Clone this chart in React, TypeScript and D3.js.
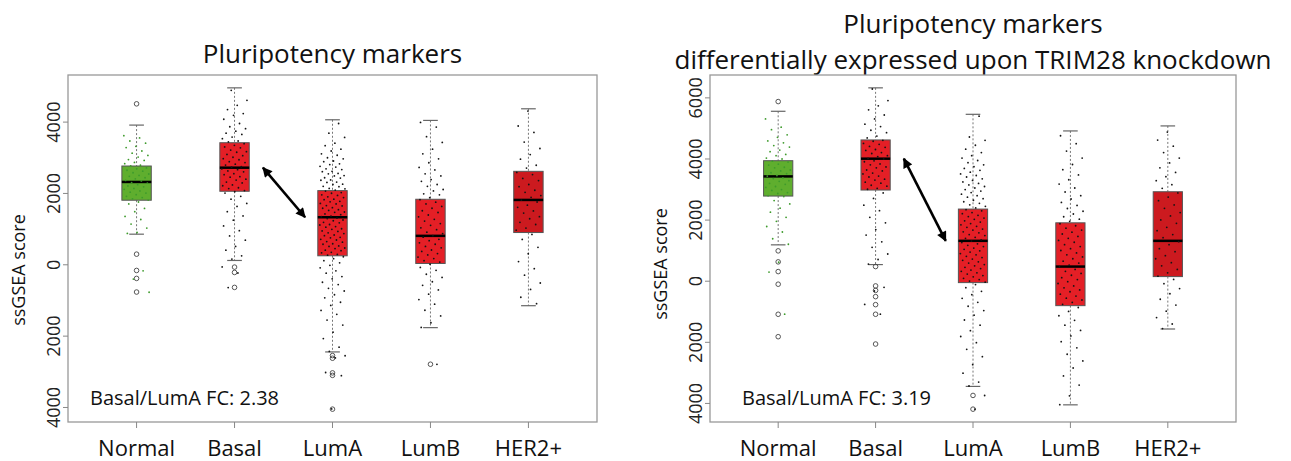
import React from 'react';
import * as d3 from 'd3';

// subtype order on the x axis
const groups = ['Normal', 'Basal', 'LumA', 'LumB', 'HER2+'];
const boxFill = ['#5fae2e', '#e41f26', '#e41f26', '#e41f26', '#cc1a1f'];
const dotFill = ['#3e9b2c', '#151515', '#151515', '#151515', '#151515'];

// box stats per group: [lower whisker, Q1, median, Q3, upper whisker]
const leftStats = [
  [858, 1810, 2322, 2769, 3916],
  [121, 2061, 2722, 3422, 4960],
  [-2443, 252, 1333, 2079, 4065],
  [-1762, 37, 811, 1837, 4047],
  [-1147, 904, 1818, 2620, 4373],
];
const leftOutliers = [
  [4512, 298, -159, -382, -764],
  [-65, -215, -634],
  [-2545, -2620, -3030, -3100, -4047],
  [-2788],
  [],
];

const rightStats = [
  [1190, 2787, 3430, 3944, 5561],
  [544, 2984, 4010, 4623, 6328],
  [-3443, -46, 1321, 2361, 5462],
  [-4046, -800, 479, 1911, 4918],
  [-1564, 151, 1321, 2928, 5082],
];
const rightOutliers = [
  [5879, 993, 633, 315, -98, -1082, -1816],
  [479, -154, -300, -505, -767, -1082, -2056],
  [-3738, -4187],
  [],
  [],
];

// jittered sample scores (approximate)
const lNormalPts = [3620, 3555, 3470, 3410, 3320, 3285, 3190, 3130, 3065, 3020, 2950, 2925, 2870, 2835, 2790, 2770, 2715, 2690, 2650, 2625, 2580, 2545, 2505, 2480, 2440, 2410, 2365, 2350, 2305, 2290, 2245, 2210, 2185, 2140, 2115, 2070, 2035, 2010, 1965, 1920, 1885, 1850, 1815, 1760, 1705, 1580, 1490, 1355, 1270, 1140, 1030, 905, 880, -170, -400, -770];
const lBasalPts = [4890, 4610, 4470, 4350, 4240, 4190, 4080, 3960, 3870, 3815, 3745, 3690, 3655, 3580, 3535, 3470, 3445, 3395, 3350, 3305, 3280, 3215, 3170, 3155, 3095, 3060, 3015, 2975, 2945, 2890, 2865, 2820, 2795, 2750, 2735, 2690, 2665, 2630, 2605, 2555, 2525, 2470, 2455, 2400, 2375, 2320, 2295, 2240, 2215, 2160, 2135, 2080, 2050, 2010, 1920, 1840, 1720, 1635, 1490, 1370, 1250, 1090, 955, 810, 690, 515, 410, 250, 160, -60, -230, -640];
const lLumAPts = [3960, 3690, 3570, 3410, 3340, 3240, 3190, 3110, 3070, 3000, 2970, 2910, 2890, 2830, 2810, 2760, 2740, 2690, 2670, 2620, 2610, 2560, 2550, 2500, 2490, 2440, 2430, 2380, 2370, 2320, 2310, 2260, 2250, 2200, 2190, 2140, 2130, 2095,
  2065, 2025, 2005, 1960, 1945, 1905, 1885, 1840, 1825, 1780, 1765, 1720, 1705, 1660, 1650, 1600, 1585, 1545, 1525, 1480, 1470, 1425, 1405, 1365, 1350, 1310, 1295, 1255, 1235, 1190, 1175, 1130, 1115, 1070, 1055, 1010, 995, 950, 935, 895, 875, 835, 815, 770, 755, 715, 695, 650, 635, 590, 575, 530, 515, 470, 455, 410, 395, 350, 335, 290, 270,
  225, 170, 115, 55, -15, -85, -170, -235, -330, -395, -490, -555, -660, -735, -840, -925, -1050, -1140, -1280, -1390, -1550, -1690, -1890, -2070, -2310, -2430, -2550, -2610, -3020, -3110, -4040];
const lLumBPts = [3990, 3860, 3590, 3430, 3240, 3110, 2970, 2860, 2730, 2660, 2550, 2490, 2390, 2340, 2250, 2200, 2110, 2070, 1990, 1960, 1880,
  1825, 1755, 1705, 1635, 1585, 1515, 1465, 1395, 1345, 1275, 1225, 1155, 1105, 1035, 985, 915, 875, 815, 775, 715, 675, 615, 575, 515, 475, 415, 375, 315, 275, 215, 175, 115, 75,
  15, -75, -155, -265, -355, -475, -575, -705, -825, -975, -1105, -1275, -1435, -1625, -1755, -2790];
const lHer2Pts = [4310, 3890, 3710, 3440, 3260, 3090, 2960, 2790, 2710, 2590, 2530, 2420, 2360, 2250, 2190, 2090, 2030, 1940, 1890, 1810, 1760, 1670, 1610, 1510, 1450, 1350, 1290, 1190, 1130, 1030, 970, 850, 710, 490, 310, 90, -110, -290, -510, -690, -910, -1090];

const rNormalPts = [5310, 5040, 4960, 4790, 4710, 4590, 4530, 4440, 4390, 4290, 4240, 4150, 4110, 4030, 4000, 3930, 3900, 3830, 3800, 3730, 3710, 3640, 3610, 3550, 3520, 3460, 3440, 3380, 3360, 3290, 3270, 3200, 3170, 3100, 3070, 3000, 2970, 2900, 2870, 2800, 2770, 2640, 2530, 2390, 2260, 2090, 1960, 1790, 1610, 1390, 1210, 620, 300, -1080];
const rBasalPts = [6290, 5910, 5740, 5610, 5440, 5310, 5140, 5060, 4940, 4860, 4750, 4690, 4610, 4580, 4510, 4480, 4410, 4380, 4310, 4280, 4210, 4180, 4110, 4080, 4020, 4000, 3940, 3910, 3840, 3810, 3740, 3710, 3640, 3610, 3540, 3510, 3440, 3410, 3340, 3310, 3240, 3210, 3140, 3110, 3040, 3010, 2890, 2710, 2490, 2310, 2090, 1910, 1690, 1510, 1290, 1110, 890, 710, 560, -200, -320, -760, -1080];
const rLumAPts = [5400, 4720, 4610, 4450, 4320, 4210, 4110, 4030, 3950, 3880, 3810, 3750, 3690, 3630, 3570, 3510, 3460, 3410, 3350, 3300, 3250, 3200, 3150, 3100, 3050, 3000, 2950, 2900, 2850, 2800, 2750, 2700, 2650, 2600, 2550, 2500, 2450, 2400,
  2340, 2305, 2245, 2210, 2155, 2115, 2065, 2025, 1975, 1935, 1885, 1845, 1795, 1765, 1705, 1675, 1615, 1585, 1525, 1495, 1435, 1405, 1355, 1315, 1265, 1225, 1175, 1135, 1085, 1045, 995, 955, 905, 865, 815, 775, 725, 685, 635, 595, 545, 505, 455, 415, 365, 325, 275, 235, 185, 145, 95, 55, 5, -30,
  -110, -210, -330, -440, -560, -690, -820, -960, -1110, -1270, -1440, -1620, -1810, -2010, -2230, -2470, -2730, -3010, -3300, -3430, -3740, -4190];
const rLumBPts = [4760, 4500, 4260, 4030, 3820, 3650, 3480, 3320, 3180, 3050, 2920, 2800, 2690, 2580, 2480, 2380, 2290, 2200, 2110, 2030, 1960,
  1880, 1815, 1735, 1675, 1605, 1545, 1465, 1405, 1335, 1275, 1195, 1135, 1065, 1005, 925, 865, 795, 735, 655, 595, 525, 465, 385, 325, 255, 195, 115, 55, -15, -75, -155, -215, -285, -345, -425, -485, -555, -615, -695, -755,
  -860, -990, -1130, -1280, -1440, -1610, -1790, -1980, -2180, -2390, -2610, -2840, -3100, -3400, -3750, -4040];
const rHer2Pts = [4880, 4620, 4420, 4210, 4030, 3870, 3710, 3560, 3420, 3290, 3160, 3040,
  2890, 2755, 2635, 2495, 2385, 2245, 2135, 2005, 1895, 1765, 1655, 1525, 1425, 1295, 1195, 1065, 965, 835, 735, 605, 505, 385, 275, 165,
  60, -80, -240, -410, -590, -780, -980, -1190, -1400, -1550];

const leftPoints = [lNormalPts, lBasalPts, lLumAPts, lLumBPts, lHer2Pts];
const rightPoints = [rNormalPts, rBasalPts, rLumAPts, rLumBPts, rHer2Pts];

const tickValues = [4000, 2000, 0, -2000, -4000];
const tickLabelsLeft = ['4000', '2000', '0', '2000', '4000'];
const tickValuesRight = [6000, 4000, 2000, 0, -2000, -4000];
const tickLabelsRight = ['6000', '4000', '2000', '0', '2000', '4000'];

const font = '"Open Sans", "DejaVu Sans", sans-serif';

type PanelProps = {
  id: string;
  x0: number; x1: number; y0: number; y1: number;
  stats: number[][];
  outliers: number[][];
  points: number[][];
  ticks: number[];
  tickLabels: string[];
  titles: string[];
  titleY: number[];
  fcText: string;
  fcX: number;
  ylabY: number;
};

const Panel = (p: PanelProps) => {
  const all = [...p.stats.flat(), ...p.outliers.flat()];
  const lo = d3.min(all) as number;
  const hi = d3.max(all) as number;
  const pad = (hi - lo) * 0.04;
  const y = d3.scaleLinear().domain([lo - pad, hi + pad]).range([p.y1, p.y0]);
  const x = d3.scaleLinear().domain([0.3, 5.7]).range([p.x0, p.x1]);
  const bw = x(1.15) - x(1);
  const cap = bw / 2;
  const cx = (p.x0 + p.x1) / 2;

  return (
    <g>
      <defs>
        <marker id={`${p.id}-head`} viewBox="0 0 10 10" refX="9" refY="5"
          markerWidth="11" markerHeight="10" markerUnits="userSpaceOnUse" orient="auto-start-reverse">
          <path d="M0,0 L10,5 L0,10 z" fill="#000" />
        </marker>
      </defs>

      {p.titles.map((t, i) => (
        <text key={t} x={cx} y={p.titleY[i]} textAnchor="middle" fontSize={26} fontFamily={font} fill="#111">{t}</text>
      ))}

      {groups.map((g, i) => {
        const [wl, q1, md, q3, wh] = p.stats[i];
        const gx = x(i + 1);
        return (
          <g key={g}>
            <line x1={gx} x2={gx} y1={y(wh)} y2={y(q3)} stroke="#777" strokeDasharray="2,2" />
            <line x1={gx} x2={gx} y1={y(q1)} y2={y(wl)} stroke="#777" strokeDasharray="2,2" />
            <line x1={gx - cap} x2={gx + cap} y1={y(wh)} y2={y(wh)} stroke="#666" strokeWidth={1.2} />
            <line x1={gx - cap} x2={gx + cap} y1={y(wl)} y2={y(wl)} stroke="#666" strokeWidth={1.2} />
            <rect x={gx - bw} y={y(q3)} width={bw * 2} height={y(q1) - y(q3)} fill={boxFill[i]} stroke="#555" strokeWidth={1} />
            <line x1={gx - bw} x2={gx + bw} y1={y(md)} y2={y(md)} stroke="#000" strokeWidth={2.5} />
            {p.outliers[i].map((v, k) => (
              <circle key={k} cx={gx} cy={y(v)} r={2.3} fill="none" stroke="#444" strokeWidth={0.9} />
            ))}
            {p.points[i].map((v, k) => {
              const off = (((k * 0.6180339887 + i * 0.37) % 1) - 0.5) * 2 * 0.13;
              return <circle key={'p' + k} cx={x(i + 1 + off)} cy={y(v)} r={0.9} fill={dotFill[i]} />;
            })}
          </g>
        );
      })}

      <line x1={x(2.29)} y1={y(p.stats[1][2])} x2={x(2.72)} y2={y(p.stats[2][2])}
        stroke="#000" strokeWidth={2.6}
        markerStart={`url(#${p.id}-head)`} markerEnd={`url(#${p.id}-head)`} />

      <rect x={p.x0} y={p.y0} width={p.x1 - p.x0} height={p.y1 - p.y0} fill="none" stroke="#999" strokeWidth={1.3} />

      {p.ticks.map((t, i) => (
        <g key={t}>
          <line x1={p.x0 - 5} x2={p.x0} y1={y(t)} y2={y(t)} stroke="#888" />
          <text transform={`translate(${p.x0 - 8},${y(t)}) rotate(-90)`} textAnchor="middle"
            fontSize={18} fontFamily={font} fill="#222">{p.tickLabels[i]}</text>
        </g>
      ))}

      {groups.map((g, i) => (
        <g key={'x' + g}>
          <line x1={x(i + 1)} x2={x(i + 1)} y1={p.y1} y2={p.y1 + 6} stroke="#888" />
          <text x={x(i + 1)} y={456} textAnchor="middle" fontSize={22} fontFamily={font} fill="#111">{g}</text>
        </g>
      ))}

      <text transform={`translate(${p.x0 - 43},${p.ylabY}) rotate(-90)`} textAnchor="middle"
        fontSize={18} fontFamily={font} fill="#111">ssGSEA score</text>

      <text x={p.fcX} y={405} fontSize={20} fontFamily={font} fill="#111">{p.fcText}</text>
    </g>
  );
};

export default function App() {
  return (
    <svg width={1291} height={461} style={{ position: 'absolute', left: 0, top: 0, background: '#fff' }}>
      <rect width={1291} height={461} fill="#fff" />
      <Panel id="l" x0={68} x1={597} y0={75} y1={422}
        stats={leftStats} outliers={leftOutliers} points={leftPoints}
        ticks={tickValues} tickLabels={tickLabelsLeft}
        titles={['Pluripotency markers']} titleY={[63]}
        fcText="Basal/LumA FC: 2.38" fcX={90} ylabY={270} />
      <Panel id="r" x0={710} x1={1236} y0={75} y1={422}
        stats={rightStats} outliers={rightOutliers} points={rightPoints}
        ticks={tickValuesRight} tickLabels={tickLabelsRight}
        titles={['Pluripotency markers', 'differentially expressed upon TRIM28 knockdown']} titleY={[33, 69]}
        fcText="Basal/LumA FC: 3.19" fcX={742} ylabY={264} />
    </svg>
  );
}
